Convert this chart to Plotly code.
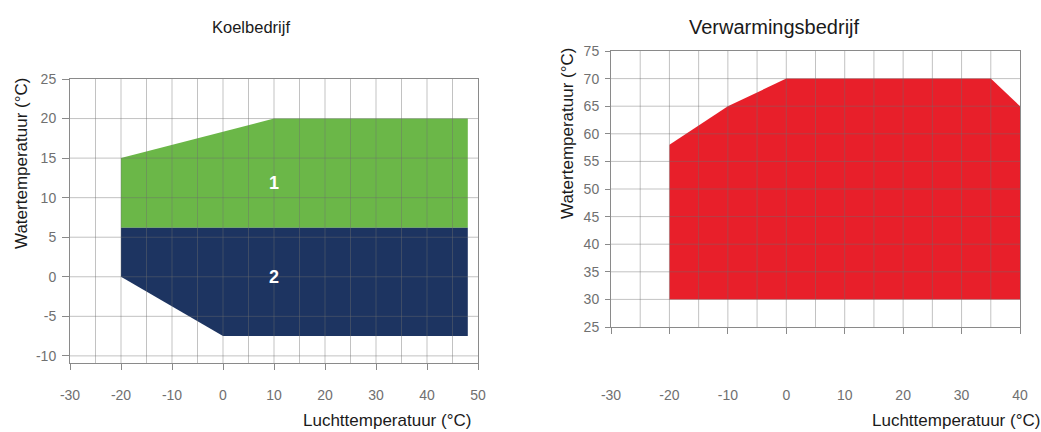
import plotly.graph_objects as go

# ---- data ----
cool_zone1_x = [-20, 10, 48, 48, -20]
cool_zone1_y = [15, 20, 20, 6.2, 6.2]
cool_zone2_x = [-20, 48, 48, 0, -20]
cool_zone2_y = [6.2, 6.2, -7.5, -7.5, 0]
heat_x = [-20, -20, -10, 0, 35, 40, 40]
heat_y = [30, 58, 65, 70, 70, 65, 30]
zone_labels = ["1", "2"]
zone_label_x = [10, 10]
zone_label_y = [11.8, 0]

cool_xticks = [-30, -20, -10, 0, 10, 20, 30, 40, 50]
cool_xtext = ["-30", "-20", "-10", "0", "10", "20", "30", "40", "50"]
cool_yticks = [-10, -5, 0, 5, 10, 15, 20, 25]
cool_ytext = ["-10", "-5", "0", "5", "10", "15", "20", "25"]
heat_xticks = [-30, -20, -10, 0, 10, 20, 30, 40]
heat_xtext = ["-30", "-20", "-10", "0", "10", "20", "30", "40"]
heat_yticks = [25, 30, 35, 40, 45, 50, 55, 60, 65, 70, 75]
heat_ytext = ["25", "30", "35", "40", "45", "50", "55", "60", "65", "70", "75"]

# grid line positions (every 5 degrees)
cool_xgrid = [-25, -20, -15, -10, -5, 0, 5, 10, 15, 20, 25, 30, 35, 40, 45]
cool_ygrid = [-10, -5, 0, 5, 10, 15, 20]
heat_xgrid = [-25, -20, -15, -10, -5, 0, 5, 10, 15, 20, 25, 30, 35]
heat_ygrid = [30, 35, 40, 45, 50, 55, 60, 65, 70]

W, H = 1041, 432
FONT = "Liberation Sans, Arial, sans-serif"
GREEN = "#6bb748"
NAVY = "#1d3461"
RED = "#e81f2a"
GRID = "rgba(110,110,110,0.42)"
AXC = "#8a8a8a"
TICKC = "#707070"

fig = go.Figure()
fig.add_trace(go.Scatter(x=cool_zone1_x, y=cool_zone1_y, fill="toself", fillcolor=GREEN,
                         mode="lines", line=dict(width=0, color=GREEN), xaxis="x", yaxis="y",
                         hoverinfo="skip", showlegend=False))
fig.add_trace(go.Scatter(x=cool_zone2_x, y=cool_zone2_y, fill="toself", fillcolor=NAVY,
                         mode="lines", line=dict(width=0, color=NAVY), xaxis="x", yaxis="y",
                         hoverinfo="skip", showlegend=False))
fig.add_trace(go.Scatter(x=heat_x, y=heat_y, fill="toself", fillcolor=RED,
                         mode="lines", line=dict(width=0, color=RED), xaxis="x2", yaxis="y2",
                         hoverinfo="skip", showlegend=False))


def px_x(p):
    return p / W


def px_y(p):
    return 1 - p / H


common_ax = dict(showline=True, linecolor=AXC, linewidth=1, mirror=True,
                 showgrid=False, zeroline=False, automargin=False,
                 ticks="outside", tickcolor=AXC, tickmode="array",
                 tickfont=dict(family=FONT, size=14, color=TICKC), layer="above traces")

fig.update_layout(
    width=W, height=H, margin=dict(l=0, r=0, t=0, b=0),
    paper_bgcolor="white", plot_bgcolor="white", showlegend=False,
    xaxis=dict(domain=[px_x(70), px_x(478)], range=[-30, 50],
               tickvals=cool_xticks, ticktext=cool_xtext,
               ticklen=6, ticklabelstandoff=13, anchor="y", **common_ax),
    yaxis=dict(domain=[px_y(363), px_y(79)], range=[-10.9, 25],
               tickvals=cool_yticks, ticktext=cool_ytext,
               ticklen=7, ticklabelstandoff=3, anchor="x", **common_ax),
    xaxis2=dict(domain=[px_x(611), px_x(1020)], range=[-30, 40],
                tickvals=heat_xticks, ticktext=heat_xtext,
                ticklen=6, ticklabelstandoff=49, anchor="y2", **common_ax),
    yaxis2=dict(domain=[px_y(327), px_y(51)], range=[25, 75],
                tickvals=heat_yticks, ticktext=heat_ytext,
                ticklen=5, ticklabelstandoff=3, anchor="x2", **common_ax),
)

# grid lines drawn above the filled zones (as in the reference)
for xr, yr, xg, yg in [("x", "y", cool_xgrid, cool_ygrid), ("x2", "y2", heat_xgrid, heat_ygrid)]:
    for v in xg:
        fig.add_shape(type="line", xref=xr, yref=yr + " domain", x0=v, x1=v, y0=0, y1=1,
                      line=dict(color=GRID, width=1), layer="above")
    for v in yg:
        fig.add_shape(type="line", xref=xr + " domain", yref=yr, x0=0, x1=1, y0=v, y1=v,
                      line=dict(color=GRID, width=1), layer="above")

for t, x, y in zip(zone_labels, zone_label_x, zone_label_y):
    fig.add_annotation(x=x, y=y, xref="x", yref="y", text="<b>" + t + "</b>", showarrow=False,
                       font=dict(family=FONT, size=18, color="white"))

ann = [
    ("Koelbedrijf", 251, 27, 16.5, 0, "center"),
    ("Verwarmingsbedrijf", 774, 27, 20, 0, "center"),
    ("Watertemperatuur (°C)", 21, 163, 17, -90, "center"),
    ("Watertemperatuur (°C)", 567, 133, 17, -90, "center"),
    ("Luchttemperatuur (°C)", 387, 420, 17, 0, "center"),
    ("Luchttemperatuur (°C)", 870, 420, 17, 0, "left"),
]
for text, x, y, size, ang, xa in ann:
    fig.add_annotation(x=px_x(x), y=px_y(y), xref="paper", yref="paper", text=text,
                       showarrow=False, textangle=ang, xanchor=xa, yanchor="middle",
                       font=dict(family=FONT, size=size, color="#1a1a1a"))

fig.write_html("out.html", config={"displayModeBar": False},
               post_script="document.body.style.margin='0';document.body.style.overflow='hidden';")
